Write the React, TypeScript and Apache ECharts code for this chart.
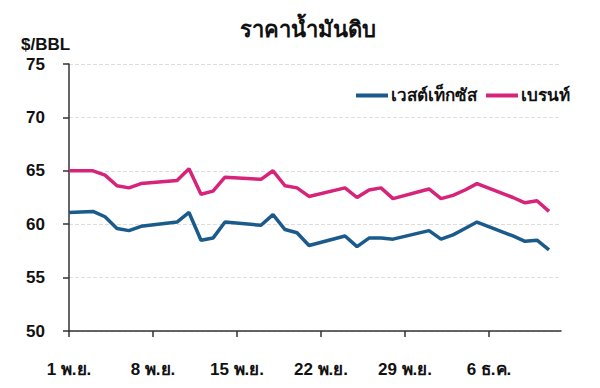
import React, { useEffect, useRef } from "react";
import * as echarts from "echarts";

// Day offsets from 1 Nov
const days = [0, 2, 3, 4, 5, 6, 9, 10, 11, 12, 13, 16, 17, 18, 19, 20, 23, 24, 25, 26, 27, 30, 31, 32, 33, 34, 37, 38, 39, 40];
const wti = [61.1, 61.2, 60.7, 59.6, 59.4, 59.8, 60.2, 61.1, 58.5, 58.7, 60.2, 59.9, 60.9, 59.5, 59.2, 58.0, 58.9, 57.9, 58.7, 58.7, 58.6, 59.4, 58.6, 59.0, 59.6, 60.2, 58.9, 58.4, 58.5, 57.6];
const brent = [65.0, 65.0, 64.6, 63.6, 63.4, 63.8, 64.1, 65.2, 62.8, 63.1, 64.4, 64.2, 65.0, 63.6, 63.4, 62.6, 63.4, 62.5, 63.2, 63.4, 62.4, 63.3, 62.4, 62.7, 63.2, 63.8, 62.5, 62.0, 62.2, 61.2];
const tickDays = [0, 7, 14, 21, 28, 35];
const tickLabels = ["1 พ.ย.", "8 พ.ย.", "15 พ.ย.", "22 พ.ย.", "29 พ.ย.", "6 ธ.ค."];
const seriesNames = ["เวสต์เท็กซัส", "เบรนท์"];
const title = "ราคาน้ำมันดิบ";
const unit = "$/BBL";

const FONT = "'Liberation Sans', Arial, 'Noto Sans', sans-serif";

export default function App() {
  const ref = useRef<HTMLDivElement>(null);
  useEffect(() => {
    if (!ref.current) return;
    const chart = echarts.init(ref.current, null, { renderer: "svg" });
    chart.setOption({
      animation: false,
      backgroundColor: "#ffffff",
      title: {
        text: title,
        left: 235,
        top: 13,
        textStyle: { fontFamily: FONT, fontSize: 22, fontWeight: "bold", color: "#111" },
      },
      graphic: [
        {
          type: "text",
          left: 21,
          top: 36,
          style: { text: unit, font: `bold 17px ${FONT}`, fill: "#111" },
        },
      ],
      legend: {
        left: 351,
        top: 82,
        itemWidth: 32,
        itemHeight: 4,
        itemGap: 9,
        icon: "rect",
        textStyle: { fontFamily: FONT, fontSize: 17, fontWeight: "bold", color: "#111", padding: [0, 0, 0, -2] },
        data: seriesNames.map((n) => ({ name: n })),
      },
      grid: { left: 69, right: 39, top: 64, bottom: 57, containLabel: false },
      xAxis: {
        type: "value",
        min: 0,
        max: 41,
        interval: 7,
        axisLine: { show: true, lineStyle: { color: "#333", width: 1.5 } },
        axisTick: { show: true, length: 6, customValues: tickDays, lineStyle: { color: "#333", width: 1.5 } },
        axisLabel: {
          customValues: tickDays,
          margin: 30,
          fontFamily: FONT,
          fontSize: 17,
          fontWeight: "bold",
          color: "#111",
          formatter: (v: number) => {
            const i = tickDays.indexOf(v);
            return i >= 0 ? tickLabels[i] : "";
          },
        },
        splitLine: { show: false },
      },
      yAxis: {
        type: "value",
        min: 50,
        max: 75,
        interval: 5,
        axisLine: { show: true, lineStyle: { color: "#333", width: 1.5 } },
        axisTick: { show: true, length: 6, lineStyle: { color: "#333", width: 1.5 } },
        axisLabel: { margin: 24, fontFamily: FONT, fontSize: 17, fontWeight: "bold", color: "#111" },
        splitLine: { show: true, lineStyle: { color: "#dddddd", type: [4, 2], width: 1 } },
      },
      series: [
        {
          name: seriesNames[0],
          type: "line",
          data: days.map((d, i) => [d, wti[i]]),
          showSymbol: false,
          symbol: "none",
          lineStyle: { color: "#1a5b8c", width: 3.5 },
          itemStyle: { color: "#1a5b8c" },
        },
        {
          name: seriesNames[1],
          type: "line",
          data: days.map((d, i) => [d, brent[i]]),
          showSymbol: false,
          symbol: "none",
          lineStyle: { color: "#d6247a", width: 3.5 },
          itemStyle: { color: "#d6247a" },
        },
      ],
    });
    return () => chart.dispose();
  }, []);
  return <div ref={ref} style={{ width: 600, height: 388, position: "absolute", left: 0, top: 0 }} />;
}
